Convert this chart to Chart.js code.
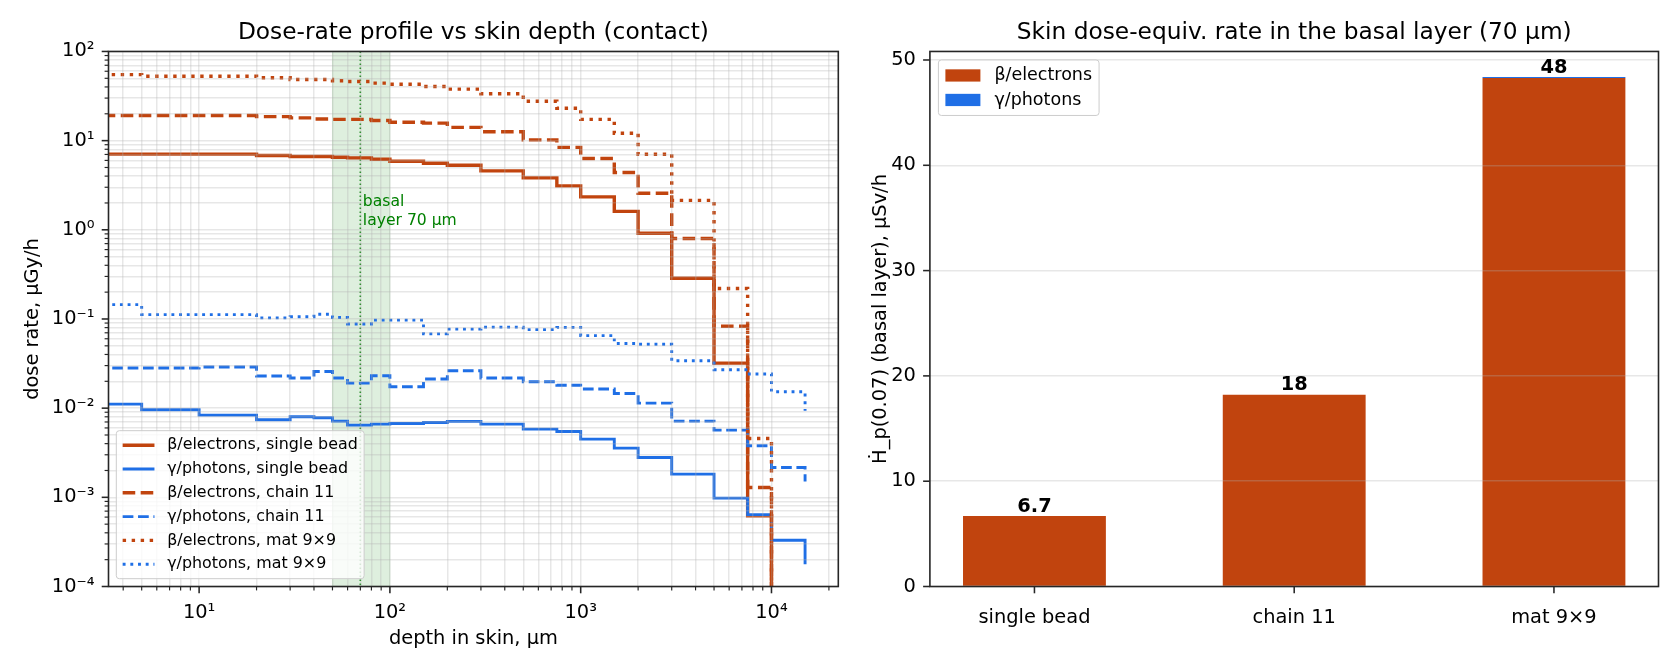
<!DOCTYPE html>
<html>
<head>
<meta charset="utf-8">
<script src="https://cdn.jsdelivr.net/npm/chart.js@4.4.1/dist/chart.umd.min.js"></script>
<style>
  html, body { margin: 0; padding: 0; background: #fff; }
  #wrap { position: relative; width: 1680px; height: 672px; }
  canvas { position: absolute; top: 0; }
  #left { left: 0; }
  #right { left: 860px; }
</style>
</head>
<body>
<div id="wrap">
  <canvas id="left" width="860" height="672"></canvas>
  <canvas id="right" width="820" height="672"></canvas>
</div>
<script>
// depth bin edges in skin, µm (0 = skin surface)
const depth = [0, 5, 10, 20, 30, 40, 50, 60, 80, 100, 150, 200, 300, 500, 750, 1000, 1500, 2000, 3000, 5000, 7500, 10000, 15000];

// dose rate at each edge, µGy/h (value holds until the next edge)
const betaSingle  = [7.05, 7.05, 7.05, 6.8, 6.63, 6.63, 6.52, 6.41, 6.18, 5.87, 5.58, 5.29, 4.58, 3.82, 3.11, 2.34, 1.61, 0.914, 0.286, 0.032, 0.00062, 0, null];
const gammaSingle = [0.0111, 0.0096, 0.00836, 0.0074, 0.0080, 0.0078, 0.00716, 0.00645, 0.00662, 0.00672, 0.00691, 0.0071, 0.00662, 0.00582, 0.00548, 0.0045, 0.00356, 0.0028, 0.00182, 0.00098, 0.00064, 0.00033, 0.000178];
const betaChain   = [19.1, 19.1, 19.1, 18.6, 18.0, 17.5, 17.3, 17.3, 16.8, 16.1, 15.7, 14.1, 12.6, 10.2, 8.4, 6.3, 4.4, 2.57, 0.80, 0.083, 0.00129, 0, null];
const gammaChain  = [0.0282, 0.0282, 0.0289, 0.0229, 0.0218, 0.0258, 0.0218, 0.0191, 0.0231, 0.0174, 0.0212, 0.0263, 0.0218, 0.0198, 0.0181, 0.0164, 0.0146, 0.0114, 0.00716, 0.00567, 0.00379, 0.00216, 0.0015];
const betaMat     = [55, 52.8, 52.8, 50.7, 48.5, 48.5, 46.9, 46.0, 44.1, 42.9, 40.5, 37.8, 33.5, 27.7, 23.1, 17.3, 12.1, 7.03, 2.14, 0.22, 0.00457, 0, null];
const gammaMat    = [0.145, 0.112, 0.112, 0.103, 0.106, 0.113, 0.104, 0.088, 0.097, 0.097, 0.068, 0.077, 0.081, 0.0759, 0.0805, 0.065, 0.053, 0.052, 0.034, 0.027, 0.0242, 0.0153, 0.00935];

// basal layer marker, µm
const basalDepth = 70;
const basalBand = [50, 100];

// right panel: Hp(0.07) in the basal layer, µSv/h
const groups = ['single bead', 'chain 11', 'mat 9×9'];
const hpBeta = [6.69, 18.2, 48.3];
const hpGamma = [0.0066, 0.019, 0.09];
const hpTicks = [0, 10, 20, 30, 40, 50];

// axis ranges of the profile plot
const depthRange = [3.35, 22400];
const doseRange = [1e-4, 100];
const depthMajor = [10, 100, 1000, 10000];
const doseMajor = [1e-4, 1e-3, 1e-2, 1e-1, 1, 10, 100];

const ORANGE = '#c1440e';
const BLUE = '#1f6fe6';
const GRID = 'rgba(176,176,176,0.3)';
const SPINE = '#262626';
const FONT = 'DejaVu Sans';
const X_FLOOR = 1e-3;   // stands in for depth 0 on the log axis (off-chart, clipped)
const Y_FLOOR = 1e-9;   // stands in for zero dose (off-chart, clipped)

Chart.defaults.font.family = FONT;
Chart.defaults.color = '#000';

const profiles = [
  { label: 'β/electrons, single bead', values: betaSingle, color: ORANGE, style: 'solid', lw: 3.4 },
  { label: 'γ/photons, single bead', values: gammaSingle, color: BLUE, style: 'solid', lw: 2.9 },
  { label: 'β/electrons, chain 11', values: betaChain, color: ORANGE, style: 'dashed', lw: 3.4 },
  { label: 'γ/photons, chain 11', values: gammaChain, color: BLUE, style: 'dashed', lw: 2.9 },
  { label: 'β/electrons, mat 9×9', values: betaMat, color: ORANGE, style: 'dotted', lw: 3.4 },
  { label: 'γ/photons, mat 9×9', values: gammaMat, color: BLUE, style: 'dotted', lw: 2.9 }
];

function dashFor(style, lw) {
  if (style === 'dashed') return [3.7 * lw, 1.6 * lw];
  if (style === 'dotted') return [1 * lw, 1.65 * lw];
  return [];
}

// minor ticks at 2..9 x each decade, majors at the decades
function logTicks(range, majors) {
  const out = [];
  for (let e = Math.floor(Math.log10(range[0])); e <= Math.ceil(Math.log10(range[1])); e++) {
    for (let k = 1; k <= 9; k++) {
      const v = k * Math.pow(10, e);
      if (v >= range[0] * 0.999 && v <= range[1] * 1.001) {
        out.push({ value: v, major: majors.some(m => Math.abs(m - v) / m < 1e-6) });
      }
    }
  }
  return out;
}

const SUP = { '0': '⁰', '1': '¹', '2': '²', '3': '³', '4': '⁴', '5': '⁵', '6': '⁶', '7': '⁷', '8': '⁸', '9': '⁹', '-': '⁻' };
function powLabel(v) {
  const e = String(Math.round(Math.log10(v)));
  return '10' + e.split('').map(c => SUP[c]).join('');
}

function drawSpines(ctx, a) {
  ctx.save();
  ctx.strokeStyle = SPINE;
  ctx.lineWidth = 1.6;
  ctx.setLineDash([]);
  ctx.strokeRect(a.left, a.top, a.right - a.left, a.bottom - a.top);
  ctx.restore();
}

function drawTickMarks(ctx, chart) {
  const a = chart.chartArea;
  ctx.save();
  ctx.strokeStyle = SPINE;
  ctx.setLineDash([]);
  const xs = chart.scales.x, ys = chart.scales.y;
  xs.ticks.forEach(t => {
    const p = xs.getPixelForValue(t.value);
    ctx.lineWidth = t.major ? 1.56 : 1.17;
    ctx.beginPath();
    ctx.moveTo(p, a.bottom);
    ctx.lineTo(p, a.bottom + (t.major ? 6.8 : 3.9));
    ctx.stroke();
  });
  ys.ticks.forEach(t => {
    const p = ys.getPixelForValue(t.value);
    ctx.lineWidth = t.major ? 1.56 : 1.17;
    ctx.beginPath();
    ctx.moveTo(a.left, p);
    ctx.lineTo(a.left - (t.major ? 6.8 : 3.9), p);
    ctx.stroke();
  });
  ctx.restore();
}

// matplotlib-like legend box
function drawLegend(ctx, a, items, o) {
  const fs = o.fs;
  const pad = 0.4 * fs, handle = 2 * fs, gap = 0.8 * fs;
  ctx.save();
  ctx.font = `${fs}px "${FONT}"`;
  const textW = Math.max(...items.map(it => ctx.measureText(it.label).width));
  const w = pad + handle + gap + textW + pad;
  const h = 2 * o.edge + (items.length - 1) * o.step;
  const left = a.left + o.inset;
  const top = o.corner === 'lower left' ? a.bottom - o.inset - h : a.top + o.inset;
  ctx.beginPath();
  ctx.roundRect(left, top, w, h, 3);
  ctx.fillStyle = 'rgba(255,255,255,0.8)';
  ctx.fill();
  ctx.strokeStyle = '#cccccc';
  ctx.lineWidth = 1;
  ctx.stroke();
  items.forEach((it, i) => {
    const cy = top + o.edge + i * o.step;
    const hx = left + pad;
    if (it.patch) {
      ctx.fillStyle = it.color;
      ctx.fillRect(hx, cy - 0.35 * fs, handle, 0.7 * fs);
    } else {
      ctx.strokeStyle = it.color;
      ctx.lineWidth = it.lw;
      ctx.lineCap = 'butt';
      ctx.setLineDash(dashFor(it.style, it.lw));
      ctx.beginPath();
      ctx.moveTo(hx, cy);
      ctx.lineTo(hx + handle, cy);
      ctx.stroke();
      ctx.setLineDash([]);
    }
    ctx.fillStyle = '#000';
    ctx.textBaseline = 'middle';
    ctx.textAlign = 'left';
    ctx.fillText(it.label, hx + handle + gap, cy);
  });
  ctx.restore();
}

// ---------- left: dose-rate profile ----------
const profileDecor = {
  id: 'profileDecor',
  beforeDatasetsDraw(chart) {
    const { ctx, chartArea: a, scales: { x, y } } = chart;
    ctx.save();
    ctx.beginPath();
    ctx.rect(a.left, a.top, a.right - a.left, a.bottom - a.top);
    ctx.clip();
    const x0 = x.getPixelForValue(basalBand[0]);
    const x1 = x.getPixelForValue(basalBand[1]);
    ctx.fillStyle = 'rgba(0,128,0,0.13)';
    ctx.fillRect(x0, a.top, x1 - x0, a.bottom - a.top);
    ctx.strokeStyle = 'rgba(0,128,0,0.13)';
    ctx.lineWidth = 1;
    ctx.strokeRect(x0, a.top - 2, x1 - x0, a.bottom - a.top + 4);
    const xb = x.getPixelForValue(basalDepth);
    ctx.strokeStyle = '#008000';
    ctx.lineWidth = 1.5;
    ctx.setLineDash([1.5, 2.5]);
    ctx.beginPath();
    ctx.moveTo(xb, a.top);
    ctx.lineTo(xb, a.bottom);
    ctx.stroke();
    ctx.restore();
  },
  afterDraw(chart) {
    const { ctx, chartArea: a, scales: { x, y } } = chart;
    ctx.save();
    ctx.font = `15.6px "${FONT}"`;
    ctx.fillStyle = '#008000';
    ctx.textAlign = 'left';
    ctx.textBaseline = 'top';
    const tx = x.getPixelForValue(basalDepth * 1.03);
    const ty = y.getPixelForValue(2.5);
    ctx.fillText('basal', tx, ty);
    ctx.fillText(`layer ${basalDepth} µm`, tx, ty + 18.7);
    ctx.restore();
    drawSpines(ctx, a);
    drawTickMarks(ctx, chart);
    drawLegend(ctx, a, profiles, { fs: 15.9, edge: 14.5, step: 23.8, inset: 7.8, corner: 'lower left' });
  }
};

new Chart(document.getElementById('left'), {
  type: 'line',
  data: {
    datasets: profiles.map((p, i) => ({
      label: p.label,
      data: depth.map((d, j) => ({
        x: d === 0 ? X_FLOOR : d,
        y: p.values[j] === 0 ? Y_FLOOR : p.values[j]
      })),
      borderColor: p.color,
      borderWidth: p.lw,
      borderDash: dashFor(p.style, p.lw),
      pointRadius: 0,
      stepped: true,
      fill: false,
      clip: 0,
      order: -i
    }))
  },
  options: {
    responsive: false,
    animation: false,
    events: [],
    layout: { padding: { left: 0, right: 21.7, top: 0, bottom: 0 } },
    plugins: {
      legend: { display: false },
      tooltip: { enabled: false },
      title: {
        display: true,
        text: 'Dose-rate profile vs skin depth (contact)',
        fullSize: false,
        color: '#000',
        font: { size: 23.3, weight: 'normal' },
        padding: { top: 19, bottom: 4.5 }
      }
    },
    scales: {
      x: {
        type: 'logarithmic',
        min: depthRange[0],
        max: depthRange[1],
        afterBuildTicks: s => { s.ticks = logTicks(depthRange, depthMajor); },
        afterFit: s => { s.height = 85.5; },
        ticks: {
          autoSkip: false, maxRotation: 0, minRotation: 0, padding: 7.5,
          font: { size: 19.4 },
          callback: (v, i, t) => (t[i] && t[i].major ? powLabel(v) : '')
        },
        grid: { z: 1, color: GRID, lineWidth: 1.5, tickLength: 7, tickColor: 'rgba(0,0,0,0)' },
        border: { display: false },
        title: { display: true, text: 'depth in skin, µm', font: { size: 19.4 }, padding: { top: 0, bottom: 21.4 } }
      },
      y: {
        type: 'logarithmic',
        min: doseRange[0],
        max: doseRange[1],
        afterBuildTicks: s => { s.ticks = logTicks(doseRange, doseMajor); },
        afterFit: s => { s.width = 108.5; },
        ticks: {
          autoSkip: false, padding: 7,
          font: { size: 19.4 },
          callback: (v, i, t) => (t[i] && t[i].major ? powLabel(v) : '')
        },
        grid: { z: 1, color: GRID, lineWidth: 1.5, tickLength: 7, tickColor: 'rgba(0,0,0,0)' },
        border: { display: false },
        title: { display: true, text: 'dose rate, µGy/h', font: { size: 19.4 }, padding: { top: 21, bottom: 0 } }
      }
    }
  },
  plugins: [profileDecor]
});

// ---------- right: basal layer bars ----------
const barWidth = 0.55;
const totals = hpBeta.map((b, i) => b + hpGamma[i]);
const hpTop = Math.max(...totals) * 1.05;
const xPad = 0.05 * (groups.length - 1 + barWidth);
const xLimits = [-barWidth / 2 - xPad, groups.length - 1 + barWidth / 2 + xPad];

const barDecor = {
  id: 'barDecor',
  afterDraw(chart) {
    const { ctx, chartArea: a } = chart;
    const topMeta = chart.getDatasetMeta(chart.data.datasets.length - 1);
    ctx.save();
    ctx.font = `bold 19.4px "${FONT}"`;
    ctx.fillStyle = '#000';
    ctx.textAlign = 'center';
    ctx.textBaseline = 'alphabetic';
    topMeta.data.forEach((el, i) => {
      ctx.fillText(totals[i].toPrecision(2), el.x, el.y - 4.3);
    });
    ctx.restore();
    drawSpines(ctx, a);
    drawTickMarks(ctx, chart);
    drawLegend(ctx, a, [
      { label: 'β/electrons', color: ORANGE, patch: true },
      { label: 'γ/photons', color: BLUE, patch: true }
    ], { fs: 17.5, edge: 15.5, step: 24.5, inset: 8.5, corner: 'upper left' });
  }
};

new Chart(document.getElementById('right'), {
  type: 'bar',
  data: {
    datasets: [
      {
        label: 'β/electrons',
        data: groups.map((g, i) => ({ x: i, y: hpBeta[i] })),
        backgroundColor: ORANGE,
        barPercentage: barWidth,
        categoryPercentage: 1
      },
      {
        label: 'γ/photons',
        data: groups.map((g, i) => ({ x: i, y: hpGamma[i] })),
        backgroundColor: BLUE,
        barPercentage: barWidth,
        categoryPercentage: 1
      }
    ]
  },
  options: {
    responsive: false,
    animation: false,
    events: [],
    layout: { padding: { left: 0, right: 21.5, top: 0, bottom: 0 } },
    plugins: {
      legend: { display: false },
      tooltip: { enabled: false },
      title: {
        display: true,
        text: 'Skin dose-equiv. rate in the basal layer (70 µm)',
        fullSize: false,
        color: '#000',
        font: { size: 23.3, weight: 'normal' },
        padding: { top: 19, bottom: 4.5 }
      }
    },
    scales: {
      x: {
        type: 'linear',
        stacked: true,
        offset: false,
        min: xLimits[0],
        max: xLimits[1],
        afterBuildTicks: s => { s.ticks = groups.map((g, i) => ({ value: i, major: true })); },
        afterFit: s => { s.height = 85.5; },
        ticks: {
          autoSkip: false, maxRotation: 0, minRotation: 0, padding: 12,
          font: { size: 19.4 },
          callback: v => groups[v] ?? ''
        },
        grid: { display: false, offset: false },
        border: { display: false }
      },
      y: {
        type: 'linear',
        stacked: true,
        min: 0,
        max: hpTop,
        afterBuildTicks: s => { s.ticks = hpTicks.map(v => ({ value: v, major: true })); },
        afterFit: s => { s.width = 69.9; },
        ticks: { padding: 14, font: { size: 19.4 }, callback: v => String(v) },
        grid: { z: 1, color: GRID, lineWidth: 1.5, drawTicks: false },
        border: { display: false },
        title: { display: true, text: 'Ḣ_p(0.07) (basal layer), µSv/h', font: { size: 19.4 }, padding: { top: 9.4, bottom: 0 } }
      }
    }
  },
  plugins: [barDecor]
});
</script>
</body>
</html>
